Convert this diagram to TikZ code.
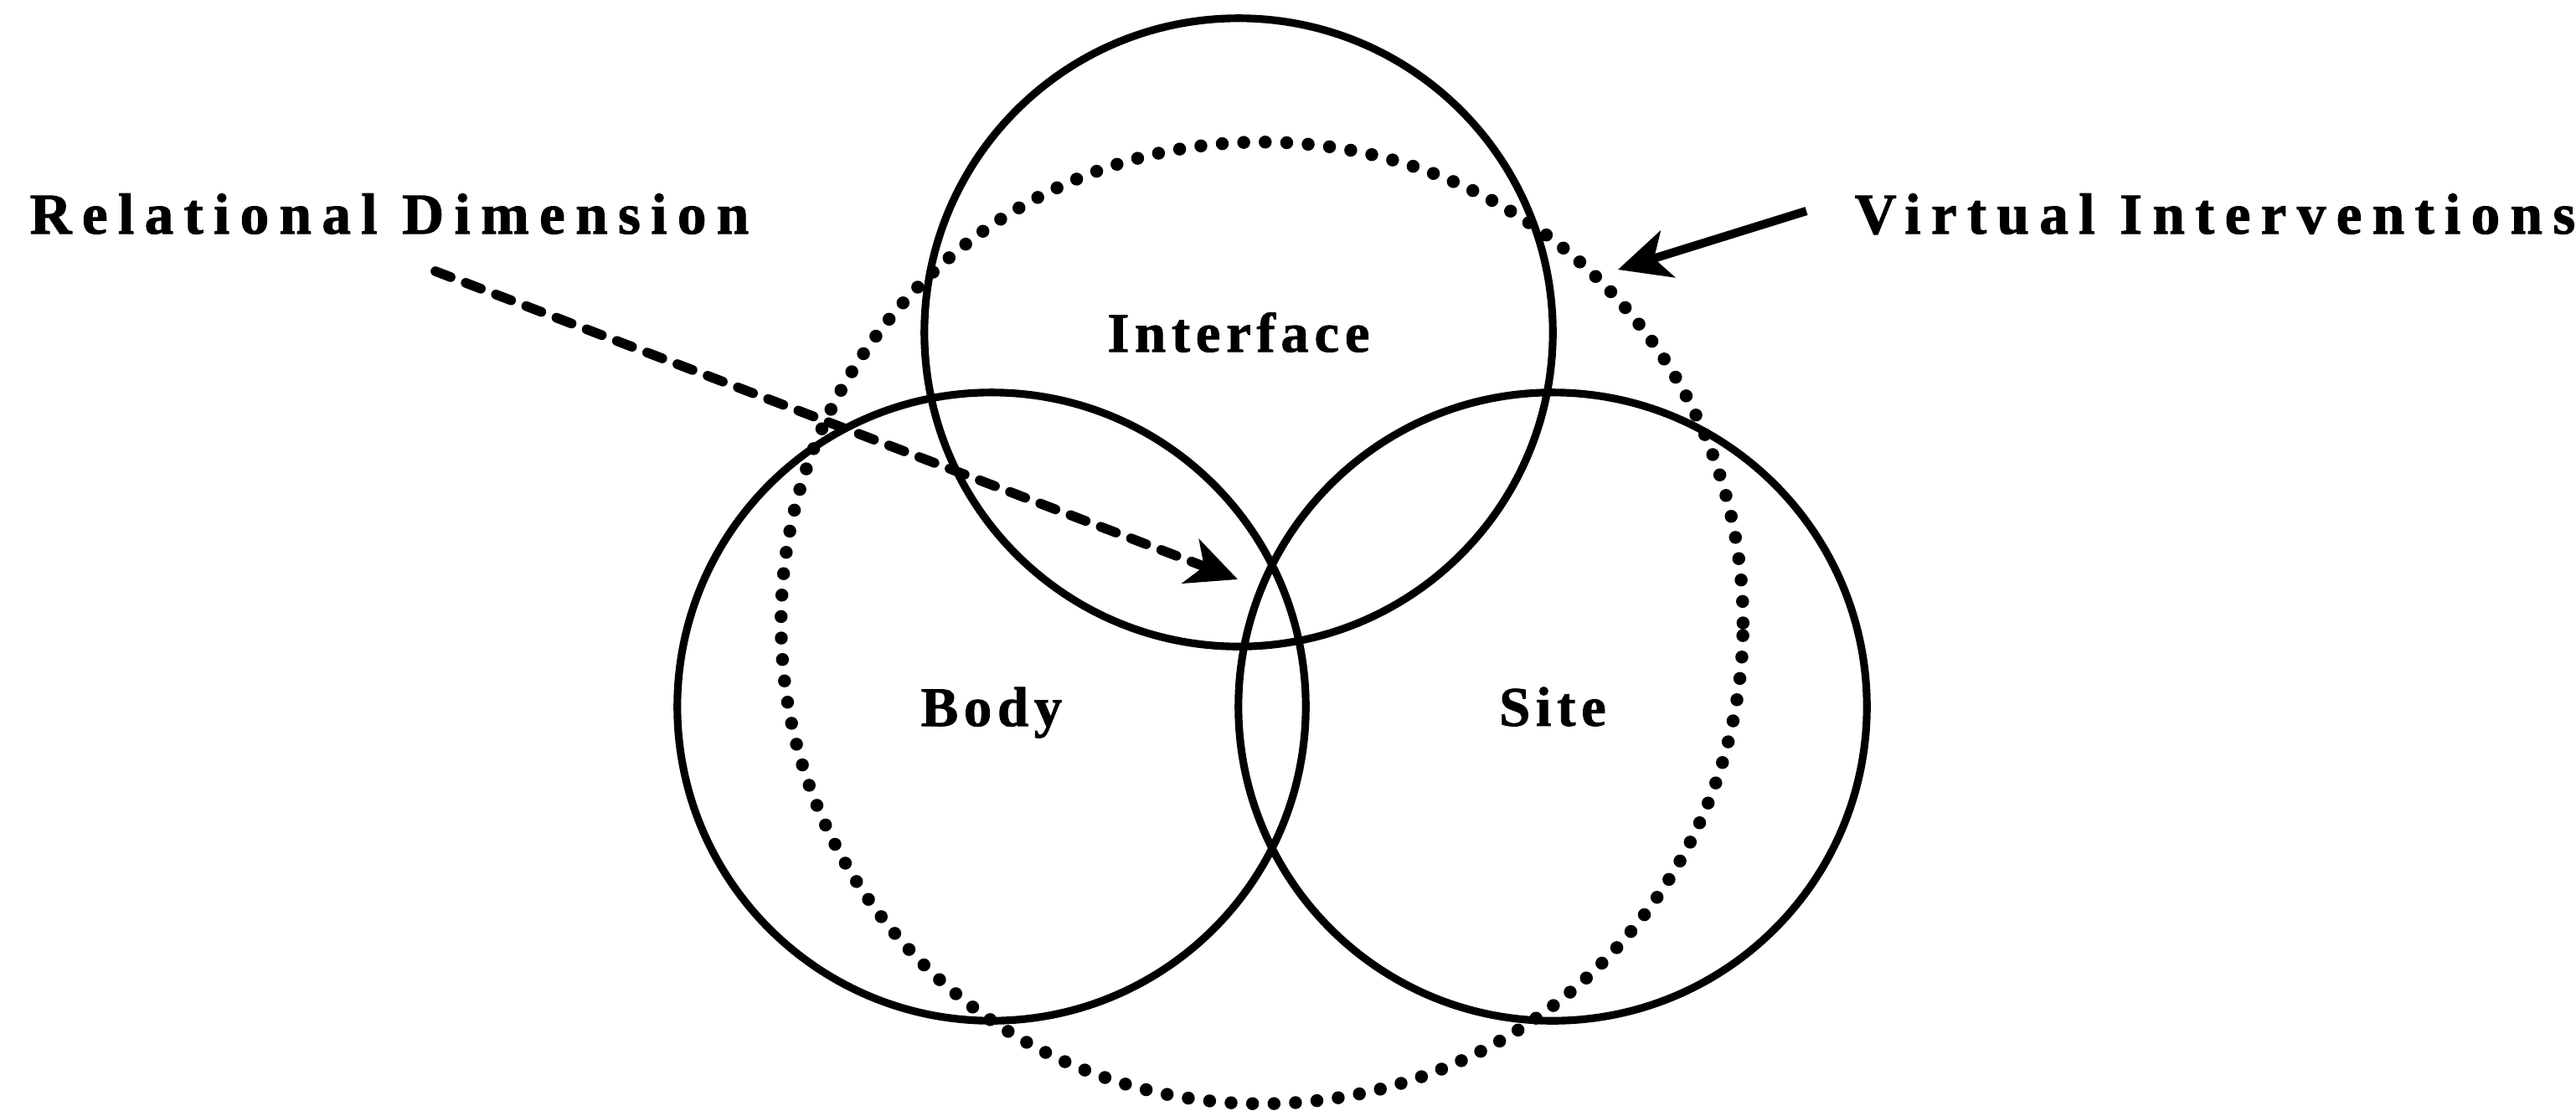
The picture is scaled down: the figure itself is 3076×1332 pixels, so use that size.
\documentclass[tikz,border=0pt]{standalone}
\usepackage{fontspec}
\setmainfont{Liberation Serif}
\usetikzlibrary{arrows.meta}
\newcommand{\lblfont}{\fontsize{19}{22}\selectfont\bfseries\addfontfeature{LetterSpace=10,FakeBold=1.2}}
\newcommand{\sidefont}{\fontsize{19}{22}\selectfont\bfseries\addfontfeature{LetterSpace=18,FakeBold=1.5}}
\tikzset{
  ring/.style={circle, draw, line width=2.6pt, minimum size=7.5cm, inner sep=0pt, font=\lblfont},
  dotring/.style={circle, draw, line width=4.4pt, dash pattern=on 0pt off 7.3pt, line cap=round, minimum size=11.48cm, inner sep=0pt},
  side/.style={inner sep=0pt, font=\sidefont},
  relarrow/.style={line width=3.3pt, line cap=round, dash pattern=on 5.5pt off 5.5pt, -{Stealth[length=0.6cm, width=0.56cm, inset=0.17cm]}},
  virarrow/.style={line width=2.9pt, -{Stealth[length=0.62cm, width=0.58cm, inset=0.17cm]}}
}
\begin{document}
\begin{tikzpicture}[x=0.01cm, y=-0.01cm]
\useasboundingbox (0,0) rectangle (3076,1332);
\node[dotring] (virtual) at (1507,744) {};
\node[ring] (interface) at (1479,397) {Interface};
\node[ring, text depth=0pt] (body) at (1184,844) {Body};
\node[ring] (site) at (1854,844) {Site};
\node[side, anchor=base west] (rel) at (35,279) {\resizebox{8.58cm}{!}{Relational Dimension}};
\node[side, anchor=base east] (vir) at (3076,279) {\resizebox{8.6cm}{!}{Virtual Interventions}};
\coordinate (relstart) at (520,324);
\coordinate (reltip) at (1478,692);
\coordinate (virstart) at (2157,252);
\coordinate (virtip) at (1932,322);
\draw[relarrow] (relstart) -- (reltip);
\draw[virarrow] (virstart) -- (virtip);
\end{tikzpicture}
\end{document}
